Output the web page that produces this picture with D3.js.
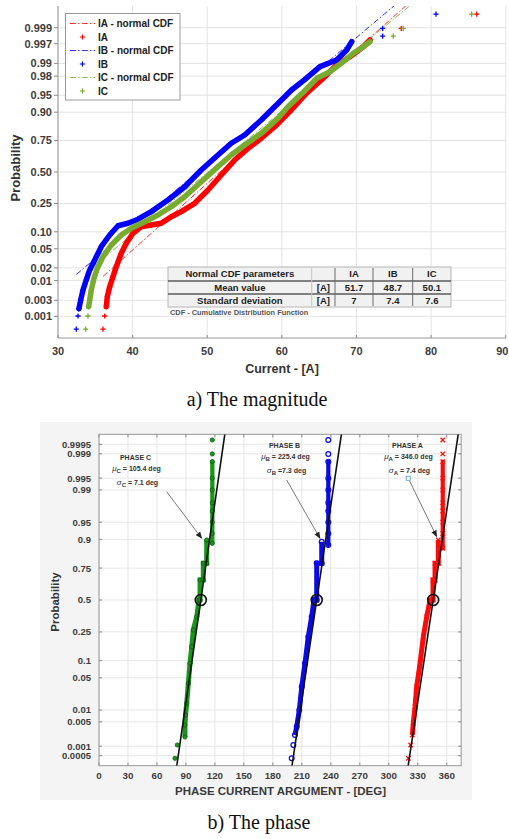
<!DOCTYPE html>
<html>
<head>
<meta charset="utf-8">
<script src="https://cdn.jsdelivr.net/npm/d3@7"></script>
<style>
  html, body { margin: 0; padding: 0; background: #fff; }
  svg { display: block; }
  text { font-family: "Liberation Sans", Arial, sans-serif; }
</style>
</head>
<body>
<svg id="fig" width="509" height="839"></svg>
<script>
// ---------- (a) current magnitude: normal probability plot ----------
const currentTicks = [30, 40, 50, 60, 70, 80, 90];
const probTicksA = [0.001, 0.003, 0.01, 0.02, 0.05, 0.10, 0.25, 0.50, 0.75, 0.90, 0.95, 0.98, 0.99, 0.997, 0.999];
const probLabelsA = ["0.001", "0.003", "0.01", "0.02", "0.05", "0.10", "0.25", "0.50", "0.75", "0.90", "0.95", "0.98", "0.99", "0.997", "0.999"];

const cdfSeries = ["IA", "IB", "IC"];
const cdfMean = [51.7, 48.7, 50.1];
const cdfStd = [7, 7.4, 7.6];

// sample quantiles [current A, cumulative probability]
const iaCurve = [[36.47,0.00196],[36.61,0.0038],[36.93,0.0070],[37.37,0.0125],[37.81,0.0213],[38.48,0.0408],[39.15,0.0634],[40.05,0.0946],[41.16,0.1208],[42.50,0.128],[43.84,0.136],[45.18,0.169],[46.52,0.198],[48.32,0.2514],[50.10,0.350],[51.88,0.4745],[53.68,0.601],[55.46,0.694],[57.24,0.765],[59.04,0.834],[61.26,0.908],[63.28,0.954],[65.55,0.9776],[67.35,0.989],[69.13,0.9932],[70.91,0.99635],[71.81,0.99765]];
const iaOutliers = [[36.03,0.00038],[36.26,0.00102],[76.0,0.99895],[86.11,0.99964]];

const ibCurve = [[32.8,0.0017],[33.04,0.00306],[33.35,0.00575],[33.79,0.0104],[34.25,0.018],[34.92,0.0298],[35.80,0.0548],[36.93,0.0887],[38.04,0.125],[39.38,0.136],[40.72,0.156],[42.50,0.198],[44.74,0.274],[46.98,0.376],[49.20,0.517],[51.44,0.642],[53.22,0.731],[55.02,0.786],[57.24,0.867],[59.48,0.929],[61.26,0.960],[63.06,0.976],[65.11,0.988],[67.35,0.9918],[68.69,0.9955],[69.36,0.99737]];
const ibOutliers = [[32.45,0.00038],[32.68,0.00102],[73.51,0.9982],[73.51,0.99895],[80.66,0.99964]];

const icCurve = [[34.11,0.00196],[34.25,0.00306],[34.46,0.00575],[34.82,0.0114],[35.27,0.0196],[36.03,0.0348],[37.14,0.059],[38.48,0.0887],[39.82,0.114],[41.62,0.1437],[43.40,0.1786],[45.18,0.2284],[46.98,0.2984],[49.20,0.4176],[51.44,0.545],[53.22,0.642],[55.02,0.718],[57.24,0.796],[59.48,0.875],[60.82,0.919],[62.83,0.9556],[64.67,0.9776],[66.45,0.9841],[68.23,0.9909],[69.57,0.9945],[70.91,0.99635],[71.81,0.99737]];
const icOutliers = [[33.71,0.00038],[34.02,0.00102],[74.93,0.9982],[76.27,0.99895],[85.44,0.99964]];

// ---------- (b) current phase: normal probability plot ----------
const phaseTicks = [0, 30, 60, 90, 120, 150, 180, 210, 240, 270, 300, 330, 360];
const probTicksB = [0.0005, 0.001, 0.005, 0.01, 0.05, 0.1, 0.25, 0.5, 0.75, 0.9, 0.95, 0.99, 0.995, 0.999, 0.9995];

const phaseNames = ["C", "B", "A"];
const phaseMean = [105.4, 225.4, 346.0];
const phaseStd = [7.1, 7.3, 7.4];

// [argument deg, cumulative probability]
const phaseC = [[89.0,0.00189],[89.0,0.0041],[89.6,0.0075],[90.8,0.0145],[92.5,0.0391],[94.2,0.0904],[96.0,0.1618],[97.6,0.263],[101.2,0.362],[103.5,0.5],[104.6,0.5],[104.6,0.664],[108.0,0.664],[108.0,0.781],[111.5,0.781],[111.5,0.8976]];
const phaseCTop = [[117.3,0.8847],[117.3,0.92],[117.3,0.95],[117.3,0.97],[117.3,0.98],[117.3,0.99],[117.3,0.995],[117.3,0.99827]];
const phaseCOutliers = [[78.7,0.00041],[81.1,0.00109],[117.3,0.99899],[117.3,0.99964]];

const phaseB = [[202.9,0.00216],[204.7,0.0037],[207.4,0.0100],[209.9,0.0334],[213.3,0.0904],[216.7,0.219],[220.2,0.362],[222.6,0.5],[225.4,0.5],[225.4,0.781],[230.6,0.781],[230.6,0.891]];
const phaseBTop = [[237.4,0.8775],[237.4,0.92],[237.4,0.95],[237.4,0.97],[237.4,0.98],[237.4,0.99],[237.4,0.995],[237.4,0.99827]];
const phaseBOutliers = [[199.5,0.00041],[201.2,0.00109],[237.4,0.99899],[237.4,0.99964]];

const phaseA = [[324.4,0.00216],[325.4,0.00457],[327.2,0.0120],[328.9,0.0334],[332.4,0.0904],[335.8,0.219],[339.3,0.362],[342.7,0.5],[345.8,0.5],[345.8,0.664],[347.9,0.664],[347.9,0.781],[351.3,0.781],[351.3,0.8976]];
const phaseATop = [[355.9,0.8628],[355.9,0.92],[355.9,0.95],[355.9,0.97],[355.9,0.98],[355.9,0.99],[355.9,0.995],[355.9,0.99827]];
const phaseAOutliers = [[320.3,0.00041],[322.7,0.00109],[355.9,0.99899],[355.9,0.99964]];

// inverse standard normal CDF (Acklam)
function probit(p) {
  const a = [-3.969683028665376e+01, 2.209460984245205e+02, -2.759285104469687e+02, 1.383577518672690e+02, -3.066479806614716e+01, 2.506628277459239e+00];
  const b = [-5.447609879822406e+01, 1.615858368580409e+02, -1.556989798598866e+02, 6.680131188771972e+01, -1.328068155288572e+01];
  const c = [-7.784894002430293e-03, -3.223964580411365e-01, -2.400758277161838e+00, -2.549732539343734e+00, 4.374664141464968e+00, 2.938163982698783e+00];
  const d = [7.784695709041462e-03, 3.224671290700398e-01, 2.445134137142996e+00, 3.754408661907416e+00];
  const pl = 0.02425, ph = 1 - pl;
  let q, r;
  if (p < pl) {
    q = Math.sqrt(-2 * Math.log(p));
    return (((((c[0]*q+c[1])*q+c[2])*q+c[3])*q+c[4])*q+c[5]) / ((((d[0]*q+d[1])*q+d[2])*q+d[3])*q+1);
  }
  if (p <= ph) {
    q = p - 0.5; r = q * q;
    return (((((a[0]*r+a[1])*r+a[2])*r+a[3])*r+a[4])*r+a[5])*q / (((((b[0]*r+b[1])*r+b[2])*r+b[3])*r+b[4])*r+1);
  }
  q = Math.sqrt(-2 * Math.log(1 - p));
  return -(((((c[0]*q+c[1])*q+c[2])*q+c[3])*q+c[4])*q+c[5]) / ((((d[0]*q+d[1])*q+d[2])*q+d[3])*q+1);
}

const svg = d3.select("#fig");
const defs = svg.append("defs");
const plusPath = "M-2.6,0H2.6M0,-2.6V2.6";
const crossPath = "M-2.2,-2.2L2.2,2.2M-2.2,2.2L2.2,-2.2";
const tickColor = "#3c3c3c";

// ===================== chart (a) =====================
const A = { left: 58, right: 506, top: 6, bottom: 338 };
const xA = d3.scaleLinear().domain([30, 90]).range([58, 505.7]);
const zA = d3.scaleLinear().domain([-3.555, 3.555]).range([A.bottom, A.top]);
const yA = p => zA(probit(p));

defs.append("clipPath").attr("id", "clipA").append("rect")
  .attr("x", A.left).attr("y", A.top).attr("width", A.right - A.left).attr("height", A.bottom - A.top);

const gA = svg.append("g");
// grid
gA.selectAll("line.vg").data(currentTicks).join("line")
  .attr("x1", d => xA(d)).attr("x2", d => xA(d)).attr("y1", A.top).attr("y2", A.bottom)
  .attr("stroke", "#e3e3e3").attr("stroke-width", 1);
gA.selectAll("line.hg").data(probTicksA).join("line")
  .attr("x1", A.left).attr("x2", A.right).attr("y1", d => yA(d)).attr("y2", d => yA(d))
  .attr("stroke", "#e3e3e3").attr("stroke-width", 1);
// frame
gA.append("line").attr("x1", A.left).attr("x2", A.left).attr("y1", A.top).attr("y2", A.bottom).attr("stroke", "#9a9a9a");
gA.append("line").attr("x1", A.left).attr("x2", A.right).attr("y1", A.bottom).attr("y2", A.bottom).attr("stroke", "#9a9a9a");
// tick marks
gA.selectAll("line.yt").data(probTicksA).join("line")
  .attr("x1", A.left - 4).attr("x2", A.left).attr("y1", d => yA(d)).attr("y2", d => yA(d)).attr("stroke", "#8a8a8a");
gA.selectAll("line.xt").data(currentTicks).join("line")
  .attr("x1", d => xA(d)).attr("x2", d => xA(d)).attr("y1", A.bottom).attr("y2", A.bottom - 3).attr("stroke", "#8a8a8a");
// tick labels
gA.selectAll("text.yl").data(probTicksA).join("text")
  .attr("x", A.left - 6).attr("y", d => yA(d)).attr("dy", "0.36em")
  .attr("text-anchor", "end").attr("font-size", 11).attr("font-weight", "bold").attr("fill", tickColor)
  .text((d, i) => probLabelsA[i]);
// the last label sits at the page edge, so it is right-aligned to stay whole
const lastTick = currentTicks[currentTicks.length - 1];
gA.selectAll("text.xl").data(currentTicks).join("text")
  .attr("x", d => d === lastTick ? 508.5 : xA(d)).attr("y", 355)
  .attr("text-anchor", d => d === lastTick ? "end" : "middle")
  .attr("font-size", 11).attr("font-weight", "bold").attr("fill", tickColor)
  .text(d => d);
gA.append("text").attr("x", 282).attr("y", 373).attr("text-anchor", "middle")
  .attr("font-size", 12.5).attr("font-weight", "bold").attr("fill", "#333").text("Current - [A]");
gA.append("text").attr("transform", "translate(20,168) rotate(-90)").attr("text-anchor", "middle")
  .attr("font-size", 13).attr("font-weight", "bold").attr("fill", "#333").text("Probability");

const colorsA = ["#ff0000", "#0000ff", "#77ac30"];
const curvesA = [iaCurve, ibCurve, icCurve];
const outliersA = [iaOutliers, ibOutliers, icOutliers];
const dashA = "6,2.2,1.4,2.2";

const plotA = gA.append("g").attr("clip-path", "url(#clipA)");
// fitted normal CDF lines
cdfSeries.forEach((s, i) => {
  const xs = curvesA[i].concat(outliersA[i]).map(d => d[0]);
  const x0 = d3.min(xs);
  const z0 = (x0 - cdfMean[i]) / cdfStd[i];
  const z1 = 3.7;
  plotA.append("line")
    .attr("x1", xA(x0)).attr("y1", zA(z0))
    .attr("x2", xA(cdfMean[i] + cdfStd[i] * z1)).attr("y2", zA(z1))
    .attr("stroke", colorsA[i]).attr("stroke-width", 1).attr("stroke-dasharray", dashA).attr("opacity", 0.8);
});
// sample points
const lineA = d3.line().x(d => xA(d[0])).y(d => yA(d[1]));
cdfSeries.forEach((s, i) => {
  plotA.append("path").attr("d", lineA(curvesA[i])).attr("fill", "none")
    .attr("stroke", colorsA[i]).attr("stroke-width", 5.5)
    .attr("stroke-linejoin", "round").attr("stroke-linecap", "round");
  plotA.selectAll(null).data(curvesA[i].concat(outliersA[i])).join("path")
    .attr("transform", d => `translate(${xA(d[0])},${yA(d[1])})`)
    .attr("d", plusPath).attr("stroke", colorsA[i]).attr("stroke-width", 1.3).attr("fill", "none");
});

// legend
const legA = gA.append("g");
legA.append("rect").attr("x", 65.5).attr("y", 13.5).attr("width", 114.5).attr("height", 86.5)
  .attr("fill", "#fff").attr("stroke", "#9a9a9a").attr("stroke-width", 1);
cdfSeries.forEach((s, i) => {
  const y1 = 23.5 + i * 27, y2 = y1 + 13.5;
  legA.append("line").attr("x1", 70).attr("x2", 95).attr("y1", y1).attr("y2", y1)
    .attr("stroke", colorsA[i]).attr("stroke-width", 1).attr("stroke-dasharray", dashA).attr("opacity", 0.8);
  legA.append("text").attr("x", 98).attr("y", y1).attr("dy", "0.36em")
    .attr("font-size", 10).attr("font-weight", "bold").attr("fill", "#222").text(`${s} - normal CDF`);
  legA.append("path").attr("transform", `translate(82.5,${y2})`).attr("d", plusPath)
    .attr("stroke", colorsA[i]).attr("stroke-width", 1.2);
  legA.append("text").attr("x", 98).attr("y", y2).attr("dy", "0.36em")
    .attr("font-size", 10).attr("font-weight", "bold").attr("fill", "#222").text(s);
});

// parameter table
const tab = gA.append("g");
const colX = [168, 311.7, 335, 373, 412.7, 451];
const rowY = [267, 281, 294, 307];
tab.append("rect").attr("x", colX[0]).attr("y", rowY[0]).attr("width", colX[5] - colX[0]).attr("height", rowY[3] - rowY[0])
  .attr("fill", "#f1f1f1").attr("stroke", "#b5b5b5").attr("stroke-width", 1);
[rowY[1], rowY[2]].forEach(y => tab.append("line").attr("x1", colX[0]).attr("x2", colX[5]).attr("y1", y).attr("y2", y)
  .attr("stroke", "#5a5a5a").attr("stroke-width", 1.5));
colX.slice(1, 5).forEach((x, k) => tab.append("line").attr("x1", x).attr("x2", x)
  .attr("y1", rowY[0] + 1).attr("y2", rowY[3] - 1).attr("stroke", k === 0 ? "#c4c4c4" : "#6a6a6a").attr("stroke-width", 1));
const mid = (a, b) => (a + b) / 2;
const cellText = (x, y, t) => tab.append("text").attr("x", x).attr("y", y).attr("dy", "0.36em")
  .attr("text-anchor", "middle").attr("font-size", 9.5).attr("font-weight", "bold").attr("fill", "#222").text(t);
cellText(mid(colX[0], colX[1]), mid(rowY[0], rowY[1]), "Normal CDF parameters");
cellText(mid(colX[0], colX[1]), mid(rowY[1], rowY[2]), "Mean value");
cellText(mid(colX[0], colX[1]), mid(rowY[2], rowY[3]), "Standard deviation");
cellText(mid(colX[1], colX[2]), mid(rowY[1], rowY[2]), "[A]");
cellText(mid(colX[1], colX[2]), mid(rowY[2], rowY[3]), "[A]");
cdfSeries.forEach((s, i) => {
  const cx = mid(colX[i + 2], colX[i + 3]);
  cellText(cx, mid(rowY[0], rowY[1]), s);
  cellText(cx, mid(rowY[1], rowY[2]), String(cdfMean[i]));
  cellText(cx, mid(rowY[2], rowY[3]), String(cdfStd[i]));
});
tab.append("text").attr("x", 170).attr("y", 312).attr("dy", "0.36em")
  .attr("font-size", 7.4).attr("font-weight", "bold").attr("fill", "#555")
  .text("CDF - Cumulative Distribution Function");

svg.append("text").attr("x", 257).attr("y", 406).attr("text-anchor", "middle")
  .style("font-family", "'Liberation Serif','Times New Roman',serif").attr("font-size", 20).attr("fill", "#111")
  .text("a) The magnitude");

// ===================== chart (b) =====================
svg.append("rect").attr("x", 40).attr("y", 422).attr("width", 432).attr("height", 378).attr("fill", "#f4f4f4");
const B = { left: 99, right: 461.2, top: 434.4, bottom: 765.6 };
const xB = d3.scaleLinear().domain([0, 375]).range([B.left, B.right]);
const zB = d3.scaleLinear().domain([-3.5, 3.5]).range([B.bottom, B.top]);
const yB = p => zB(probit(p));

defs.append("clipPath").attr("id", "clipB").append("rect")
  .attr("x", B.left).attr("y", B.top).attr("width", B.right - B.left).attr("height", B.bottom - B.top);

const gB = svg.append("g");
gB.append("rect").attr("x", B.left).attr("y", B.top).attr("width", B.right - B.left).attr("height", B.bottom - B.top)
  .attr("fill", "#fff");
gB.selectAll("line.vg").data(phaseTicks).join("line")
  .attr("x1", d => xB(d)).attr("x2", d => xB(d)).attr("y1", B.top).attr("y2", B.bottom)
  .attr("stroke", "#e6e6e6");
gB.selectAll("line.hg").data(probTicksB).join("line")
  .attr("x1", B.left).attr("x2", B.right).attr("y1", d => yB(d)).attr("y2", d => yB(d))
  .attr("stroke", "#e6e6e6");
gB.append("rect").attr("x", B.left).attr("y", B.top).attr("width", B.right - B.left).attr("height", B.bottom - B.top)
  .attr("fill", "none").attr("stroke", "#a8a8a8").attr("stroke-width", 1.2);
// tick marks on all four sides
gB.selectAll("line.ytl").data(probTicksB).join("line")
  .attr("x1", B.left).attr("x2", B.left + 3).attr("y1", d => yB(d)).attr("y2", d => yB(d)).attr("stroke", "#888");
gB.selectAll("line.ytr").data(probTicksB).join("line")
  .attr("x1", B.right - 3).attr("x2", B.right).attr("y1", d => yB(d)).attr("y2", d => yB(d)).attr("stroke", "#888");
gB.selectAll("line.xtb").data(phaseTicks).join("line")
  .attr("x1", d => xB(d)).attr("x2", d => xB(d)).attr("y1", B.bottom).attr("y2", B.bottom - 3).attr("stroke", "#888");
gB.selectAll("line.xtt").data(phaseTicks).join("line")
  .attr("x1", d => xB(d)).attr("x2", d => xB(d)).attr("y1", B.top).attr("y2", B.top + 3).attr("stroke", "#888");

gB.selectAll("text.yl").data(probTicksB).join("text")
  .attr("x", 91).attr("y", d => yB(d)).attr("dy", "0.36em")
  .attr("text-anchor", "end").attr("font-size", 9.5).attr("font-weight", "bold").attr("fill", tickColor)
  .text(d => String(d));
gB.selectAll("text.xl").data(phaseTicks).join("text")
  .attr("x", d => xB(d)).attr("y", 779)
  .attr("text-anchor", "middle").attr("font-size", 9.8).attr("font-weight", "bold").attr("fill", tickColor)
  .text(d => d);
gB.append("text").attr("x", 280.5).attr("y", 795).attr("text-anchor", "middle")
  .attr("font-size", 11.5).attr("font-weight", "bold").attr("fill", "#3a3a3a").text("PHASE CURRENT ARGUMENT - [DEG]");
gB.append("text").attr("transform", "translate(59,602) rotate(-90)").attr("text-anchor", "middle")
  .attr("font-size", 11.5).attr("font-weight", "bold").attr("fill", "#333").text("Probability");

const plotB = gB.append("g").attr("clip-path", "url(#clipB)");
const lineB = d3.line().x(d => xB(d[0])).y(d => yB(d[1]));
const phaseStyle = [
  { color: "#18961a", data: phaseC, top: phaseCTop, out: phaseCOutliers, marker: "dot" },
  { color: "#0a0ae6", data: phaseB, top: phaseBTop, out: phaseBOutliers, marker: "circle" },
  { color: "#ff0a0a", data: phaseA, top: phaseATop, out: phaseAOutliers, marker: "cross" }
];
function drawMarkers(g, pts, st) {
  const sel = g.selectAll(null).data(pts);
  if (st.marker === "dot") {
    sel.join("circle").attr("cx", d => xB(d[0])).attr("cy", d => yB(d[1])).attr("r", 2.1)
      .attr("fill", st.color).attr("stroke", "#0e5a10").attr("stroke-width", 0.8);
  } else if (st.marker === "circle") {
    sel.join("circle").attr("cx", d => xB(d[0])).attr("cy", d => yB(d[1])).attr("r", 2.4)
      .attr("fill", "none").attr("stroke", st.color).attr("stroke-width", 1.2);
  } else {
    sel.join("path").attr("transform", d => `translate(${xB(d[0])},${yB(d[1])})`).attr("d", crossPath)
      .attr("fill", "none").attr("stroke", st.color).attr("stroke-width", 1.3);
  }
}
phaseStyle.forEach(st => {
  plotB.append("path").attr("d", lineB(st.data)).attr("fill", "none").attr("stroke", st.color)
    .attr("stroke-width", 5).attr("stroke-linejoin", "miter");
  plotB.append("path").attr("d", lineB(st.top)).attr("fill", "none").attr("stroke", st.color)
    .attr("stroke-width", 4.2).attr("stroke-linecap", "round");
  drawMarkers(plotB, st.data.concat(st.top, st.out), st);
});
// fitted normal lines and medians
phaseNames.forEach((n, i) => {
  const z0 = -3.7, z1 = 3.7;
  plotB.append("line")
    .attr("x1", xB(phaseMean[i] + phaseStd[i] * z0)).attr("y1", zB(z0))
    .attr("x2", xB(phaseMean[i] + phaseStd[i] * z1)).attr("y2", zB(z1))
    .attr("stroke", "#111").attr("stroke-width", 1.6);
  plotB.append("circle").attr("cx", xB(phaseMean[i])).attr("cy", yB(0.5)).attr("r", 5.5)
    .attr("fill", "none").attr("stroke", "#111").attr("stroke-width", 1.6);
});

// annotations
defs.append("marker").attr("id", "head").attr("viewBox", "0 0 10 10").attr("refX", 9).attr("refY", 5)
  .attr("markerWidth", 7).attr("markerHeight", 7).attr("orient", "auto-start-reverse")
  .append("path").attr("d", "M0,1 L10,5 L0,9 z").attr("fill", "#222");
const annot = [
  { name: "C", cx: 135.5, y: 459.5, arrow: [166.7, 491.7, 201.7, 538.3], box: false, sep: " = " },
  { name: "B", cx: 284.5, y: 447.5, arrow: [286.7, 480, 320, 538.3], box: false, sep: " =" },
  { name: "A", cx: 407.5, y: 447.5, arrow: [408.3, 478.3, 436.7, 536.7], box: true, sep: " = " }
];
annot.forEach(a => {
  const i = phaseNames.indexOf(a.name);
  const t = gB.append("g").attr("font-size", 7).attr("font-weight", "bold").attr("fill", "#333");
  t.append("text").attr("x", a.cx).attr("y", a.y).attr("text-anchor", "middle").text(`PHASE ${a.name}`);
  const mu = t.append("text").attr("x", a.cx + 1).attr("y", a.y + 11.5).attr("text-anchor", "middle");
  mu.append("tspan").attr("font-style", "italic").attr("font-weight", "normal").attr("font-size", 8).text("μ");
  mu.append("tspan").attr("dy", 2).attr("font-size", 6).text(a.name);
  mu.append("tspan").attr("dy", -2).text(` = ${phaseMean[i].toFixed(1)} deg`);
  const sg = t.append("text").attr("x", a.cx + 2).attr("y", a.y + 25).attr("text-anchor", "middle");
  sg.append("tspan").attr("font-style", "italic").attr("font-weight", "normal").attr("font-size", 8).text("σ");
  sg.append("tspan").attr("dy", 2).attr("font-size", 6).text(a.name);
  sg.append("tspan").attr("dy", -2).text(`${a.sep}${phaseStd[i].toFixed(1)} deg`);
  gB.append("line").attr("x1", a.arrow[0]).attr("y1", a.arrow[1]).attr("x2", a.arrow[2]).attr("y2", a.arrow[3])
    .attr("stroke", "#7a7a7a").attr("stroke-width", 1).attr("marker-end", "url(#head)");
  if (a.box) {
    gB.append("rect").attr("x", a.arrow[0] - 2).attr("y", a.arrow[1] - 2).attr("width", 4).attr("height", 4)
      .attr("fill", "#fff").attr("stroke", "#6fa3d6").attr("stroke-width", 0.9);
  }
});

svg.append("text").attr("x", 259).attr("y", 829).attr("text-anchor", "middle")
  .style("font-family", "'Liberation Serif','Times New Roman',serif").attr("font-size", 20).attr("fill", "#111")
  .text("b) The phase");
</script>
</body>
</html>
